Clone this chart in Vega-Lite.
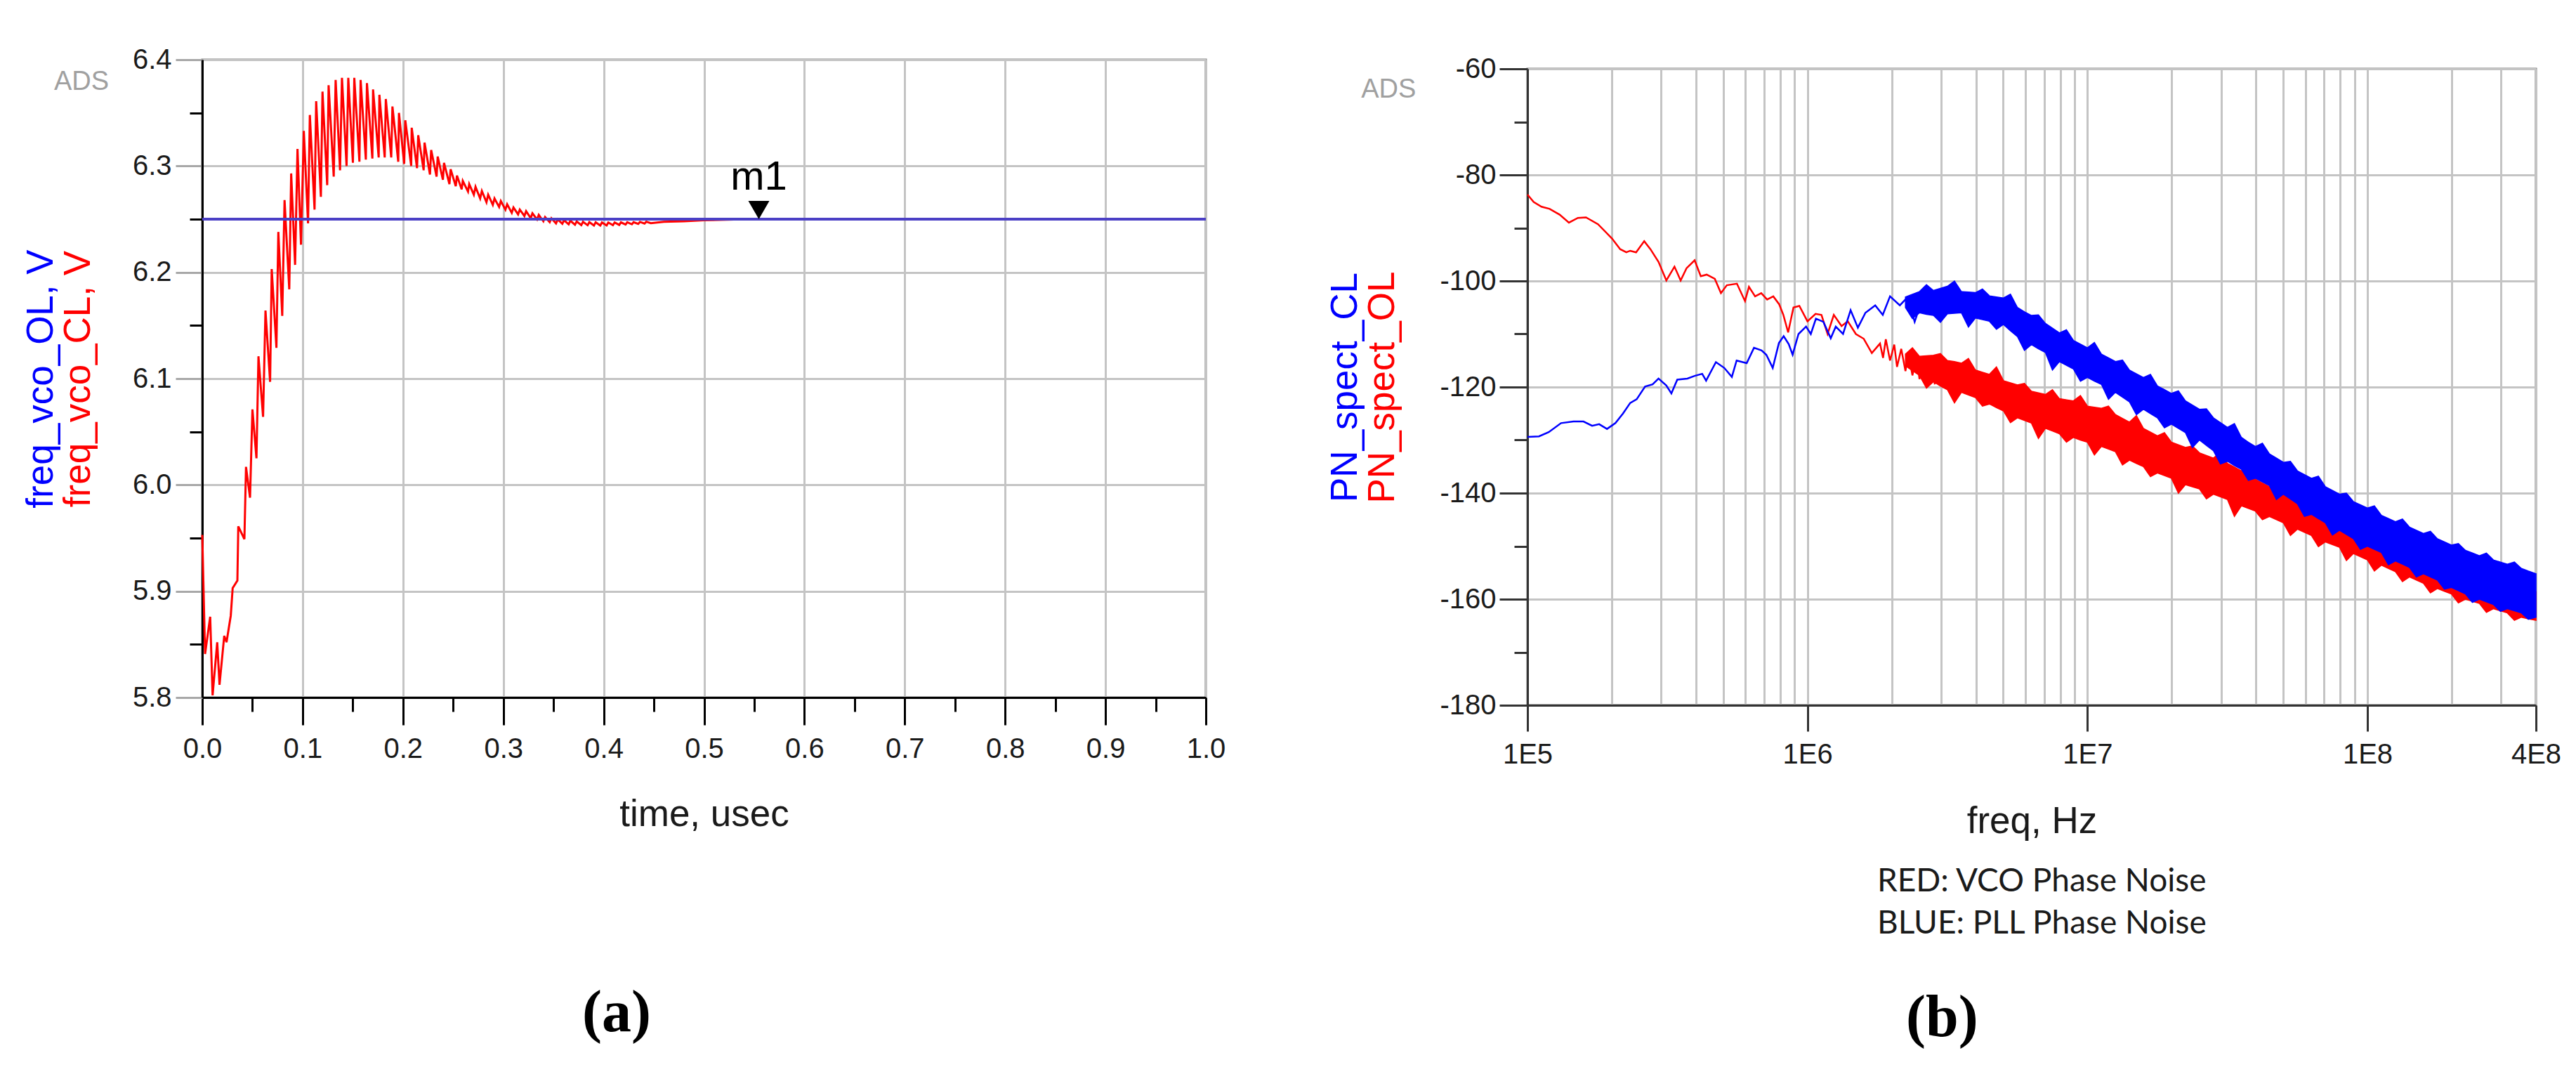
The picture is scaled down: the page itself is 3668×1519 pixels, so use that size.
{
 "$schema": "https://vega.github.io/schema/vega-lite/v6.json",
 "background": "white",
 "padding": {"left": 30, "top": 61, "right": 5, "bottom": 5},
 "spacing": 140,
 "config": {
  "view": {"stroke": "#7a7a7a", "strokeWidth": 3},
  "axis": {"labelFont": "Liberation Sans", "titleFont": "Liberation Sans", "labelFontSize": 40, "labelColor": "#1a1a1a", "titleFontSize": 53, "titleFontWeight": "normal", "gridColor": "#c4c4c4", "gridWidth": 3, "gridOpacity": 1, "tickWidth": 3, "domainWidth": 3, "domainColor": "#000000", "tickColor": "#000000", "labelFlush": false, "labelOverlap": false, "labelBound": false}
 },
 "datasets": {
  "vco": [
   {"series": "freq_vco_OL", "time": 0, "value": 6.25},
   {"series": "freq_vco_OL", "time": 1, "value": 6.25},
   {"series": "freq_vco_CL", "time": 0, "value": 5.953},
   {"series": "freq_vco_CL", "time": 0.0028, "value": 5.841},
   {"series": "freq_vco_CL", "time": 0.0079, "value": 5.876},
   {"series": "freq_vco_CL", "time": 0.0103, "value": 5.802},
   {"series": "freq_vco_CL", "time": 0.0149, "value": 5.852},
   {"series": "freq_vco_CL", "time": 0.0172, "value": 5.812},
   {"series": "freq_vco_CL", "time": 0.0219, "value": 5.858},
   {"series": "freq_vco_CL", "time": 0.0242, "value": 5.852},
   {"series": "freq_vco_CL", "time": 0.0284, "value": 5.877},
   {"series": "freq_vco_CL", "time": 0.0303, "value": 5.903},
   {"series": "freq_vco_CL", "time": 0.035, "value": 5.91},
   {"series": "freq_vco_CL", "time": 0.0359, "value": 5.961},
   {"series": "freq_vco_CL", "time": 0.042, "value": 5.949},
   {"series": "freq_vco_CL", "time": 0.0436, "value": 6.017},
   {"series": "freq_vco_CL", "time": 0.0476, "value": 5.988},
   {"series": "freq_vco_CL", "time": 0.05, "value": 6.071},
   {"series": "freq_vco_CL", "time": 0.054, "value": 6.025},
   {"series": "freq_vco_CL", "time": 0.056, "value": 6.121},
   {"series": "freq_vco_CL", "time": 0.0606, "value": 6.064},
   {"series": "freq_vco_CL", "time": 0.063, "value": 6.164},
   {"series": "freq_vco_CL", "time": 0.0676, "value": 6.097},
   {"series": "freq_vco_CL", "time": 0.0692, "value": 6.203},
   {"series": "freq_vco_CL", "time": 0.0739, "value": 6.129},
   {"series": "freq_vco_CL", "time": 0.0758, "value": 6.238},
   {"series": "freq_vco_CL", "time": 0.0797, "value": 6.159},
   {"series": "freq_vco_CL", "time": 0.082, "value": 6.268},
   {"series": "freq_vco_CL", "time": 0.0867, "value": 6.184},
   {"series": "freq_vco_CL", "time": 0.0886, "value": 6.293},
   {"series": "freq_vco_CL", "time": 0.0925, "value": 6.207},
   {"series": "freq_vco_CL", "time": 0.0949, "value": 6.316},
   {"series": "freq_vco_CL", "time": 0.0984, "value": 6.226},
   {"series": "freq_vco_CL", "time": 0.1012, "value": 6.333},
   {"series": "freq_vco_CL", "time": 0.1054, "value": 6.246},
   {"series": "freq_vco_CL", "time": 0.1072, "value": 6.348},
   {"series": "freq_vco_CL", "time": 0.1119, "value": 6.259},
   {"series": "freq_vco_CL", "time": 0.1135, "value": 6.361},
   {"series": "freq_vco_CL", "time": 0.1182, "value": 6.271},
   {"series": "freq_vco_CL", "time": 0.1198, "value": 6.37},
   {"series": "freq_vco_CL", "time": 0.1245, "value": 6.282},
   {"series": "freq_vco_CL", "time": 0.1259, "value": 6.376},
   {"series": "freq_vco_CL", "time": 0.131, "value": 6.29},
   {"series": "freq_vco_CL", "time": 0.1329, "value": 6.381},
   {"series": "freq_vco_CL", "time": 0.1373, "value": 6.296},
   {"series": "freq_vco_CL", "time": 0.1392, "value": 6.383},
   {"series": "freq_vco_CL", "time": 0.1438, "value": 6.3},
   {"series": "freq_vco_CL", "time": 0.1455, "value": 6.383},
   {"series": "freq_vco_CL", "time": 0.1501, "value": 6.303},
   {"series": "freq_vco_CL", "time": 0.1515, "value": 6.383},
   {"series": "freq_vco_CL", "time": 0.1566, "value": 6.304},
   {"series": "freq_vco_CL", "time": 0.1578, "value": 6.381},
   {"series": "freq_vco_CL", "time": 0.163, "value": 6.306},
   {"series": "freq_vco_CL", "time": 0.1641, "value": 6.378},
   {"series": "freq_vco_CL", "time": 0.1695, "value": 6.307},
   {"series": "freq_vco_CL", "time": 0.1702, "value": 6.372},
   {"series": "freq_vco_CL", "time": 0.1758, "value": 6.308},
   {"series": "freq_vco_CL", "time": 0.1765, "value": 6.367},
   {"series": "freq_vco_CL", "time": 0.1818, "value": 6.308},
   {"series": "freq_vco_CL", "time": 0.1829, "value": 6.363},
   {"series": "freq_vco_CL", "time": 0.1883, "value": 6.308},
   {"series": "freq_vco_CL", "time": 0.1895, "value": 6.356},
   {"series": "freq_vco_CL", "time": 0.1953, "value": 6.304},
   {"series": "freq_vco_CL", "time": 0.196, "value": 6.35},
   {"series": "freq_vco_CL", "time": 0.2012, "value": 6.302},
   {"series": "freq_vco_CL", "time": 0.2023, "value": 6.343},
   {"series": "freq_vco_CL", "time": 0.2082, "value": 6.3},
   {"series": "freq_vco_CL", "time": 0.2087, "value": 6.336},
   {"series": "freq_vco_CL", "time": 0.214, "value": 6.298},
   {"series": "freq_vco_CL", "time": 0.2152, "value": 6.329},
   {"series": "freq_vco_CL", "time": 0.2206, "value": 6.296},
   {"series": "freq_vco_CL", "time": 0.2215, "value": 6.322},
   {"series": "freq_vco_CL", "time": 0.2269, "value": 6.292},
   {"series": "freq_vco_CL", "time": 0.2281, "value": 6.315},
   {"series": "freq_vco_CL", "time": 0.2335, "value": 6.29},
   {"series": "freq_vco_CL", "time": 0.2346, "value": 6.309},
   {"series": "freq_vco_CL", "time": 0.2398, "value": 6.287},
   {"series": "freq_vco_CL", "time": 0.2409, "value": 6.303},
   {"series": "freq_vco_CL", "time": 0.2463, "value": 6.283},
   {"series": "freq_vco_CL", "time": 0.2475, "value": 6.297},
   {"series": "freq_vco_CL", "time": 0.2526, "value": 6.281},
   {"series": "freq_vco_CL", "time": 0.2538, "value": 6.291},
   {"series": "freq_vco_CL", "time": 0.2585, "value": 6.278},
   {"series": "freq_vco_CL", "time": 0.2596, "value": 6.286},
   {"series": "freq_vco_CL", "time": 0.2648, "value": 6.276},
   {"series": "freq_vco_CL", "time": 0.266, "value": 6.283},
   {"series": "freq_vco_CL", "time": 0.2706, "value": 6.273},
   {"series": "freq_vco_CL", "time": 0.2723, "value": 6.2805},
   {"series": "freq_vco_CL", "time": 0.2769, "value": 6.2695},
   {"series": "freq_vco_CL", "time": 0.2786, "value": 6.2765},
   {"series": "freq_vco_CL", "time": 0.2832, "value": 6.266},
   {"series": "freq_vco_CL", "time": 0.2849, "value": 6.273},
   {"series": "freq_vco_CL", "time": 0.2895, "value": 6.2635},
   {"series": "freq_vco_CL", "time": 0.2912, "value": 6.2695},
   {"series": "freq_vco_CL", "time": 0.2958, "value": 6.2615},
   {"series": "freq_vco_CL", "time": 0.2975, "value": 6.267},
   {"series": "freq_vco_CL", "time": 0.3021, "value": 6.259},
   {"series": "freq_vco_CL", "time": 0.3038, "value": 6.264},
   {"series": "freq_vco_CL", "time": 0.3084, "value": 6.256},
   {"series": "freq_vco_CL", "time": 0.3101, "value": 6.261},
   {"series": "freq_vco_CL", "time": 0.3147, "value": 6.2545},
   {"series": "freq_vco_CL", "time": 0.3164, "value": 6.259},
   {"series": "freq_vco_CL", "time": 0.321, "value": 6.253},
   {"series": "freq_vco_CL", "time": 0.3227, "value": 6.2575},
   {"series": "freq_vco_CL", "time": 0.3273, "value": 6.251},
   {"series": "freq_vco_CL", "time": 0.329, "value": 6.2555},
   {"series": "freq_vco_CL", "time": 0.3336, "value": 6.2497},
   {"series": "freq_vco_CL", "time": 0.3353, "value": 6.254},
   {"series": "freq_vco_CL", "time": 0.3399, "value": 6.248},
   {"series": "freq_vco_CL", "time": 0.3416, "value": 6.252},
   {"series": "freq_vco_CL", "time": 0.3462, "value": 6.2472},
   {"series": "freq_vco_CL", "time": 0.3479, "value": 6.2508},
   {"series": "freq_vco_CL", "time": 0.3525, "value": 6.246},
   {"series": "freq_vco_CL", "time": 0.3542, "value": 6.2498},
   {"series": "freq_vco_CL", "time": 0.3588, "value": 6.2457},
   {"series": "freq_vco_CL", "time": 0.3605, "value": 6.249},
   {"series": "freq_vco_CL", "time": 0.3651, "value": 6.2452},
   {"series": "freq_vco_CL", "time": 0.3668, "value": 6.2485},
   {"series": "freq_vco_CL", "time": 0.3714, "value": 6.2448},
   {"series": "freq_vco_CL", "time": 0.3731, "value": 6.2478},
   {"series": "freq_vco_CL", "time": 0.3777, "value": 6.2444},
   {"series": "freq_vco_CL", "time": 0.3794, "value": 6.2475},
   {"series": "freq_vco_CL", "time": 0.384, "value": 6.2443},
   {"series": "freq_vco_CL", "time": 0.3857, "value": 6.2472},
   {"series": "freq_vco_CL", "time": 0.3903, "value": 6.2441},
   {"series": "freq_vco_CL", "time": 0.392, "value": 6.247},
   {"series": "freq_vco_CL", "time": 0.3966, "value": 6.244},
   {"series": "freq_vco_CL", "time": 0.3983, "value": 6.2469},
   {"series": "freq_vco_CL", "time": 0.4029, "value": 6.2441},
   {"series": "freq_vco_CL", "time": 0.4046, "value": 6.2469},
   {"series": "freq_vco_CL", "time": 0.4092, "value": 6.2444},
   {"series": "freq_vco_CL", "time": 0.4109, "value": 6.2469},
   {"series": "freq_vco_CL", "time": 0.4155, "value": 6.2446},
   {"series": "freq_vco_CL", "time": 0.4172, "value": 6.247},
   {"series": "freq_vco_CL", "time": 0.4218, "value": 6.2449},
   {"series": "freq_vco_CL", "time": 0.4235, "value": 6.2471},
   {"series": "freq_vco_CL", "time": 0.4281, "value": 6.2452},
   {"series": "freq_vco_CL", "time": 0.4298, "value": 6.2472},
   {"series": "freq_vco_CL", "time": 0.4344, "value": 6.2456},
   {"series": "freq_vco_CL", "time": 0.4361, "value": 6.2474},
   {"series": "freq_vco_CL", "time": 0.4407, "value": 6.2459},
   {"series": "freq_vco_CL", "time": 0.4424, "value": 6.2476},
   {"series": "freq_vco_CL", "time": 0.447, "value": 6.2462},
   {"series": "freq_vco_CL", "time": 0.46, "value": 6.2475},
   {"series": "freq_vco_CL", "time": 0.48, "value": 6.248},
   {"series": "freq_vco_CL", "time": 0.5, "value": 6.249},
   {"series": "freq_vco_CL", "time": 0.53, "value": 6.2497},
   {"series": "freq_vco_CL", "time": 0.56, "value": 6.25},
   {"series": "freq_vco_CL", "time": 1, "value": 6.25}
  ],
  "marker": [{"name": "m1", "time": 0.5546, "value": 6.25}],
  "pn_line": [
   {"series": "PN_spect_OL", "freq": 100000, "pn": -83.7},
   {"series": "PN_spect_OL", "freq": 105200, "pn": -85.1},
   {"series": "PN_spect_OL", "freq": 112200, "pn": -86.0},
   {"series": "PN_spect_OL", "freq": 120000, "pn": -86.4},
   {"series": "PN_spect_OL", "freq": 130300, "pn": -87.5},
   {"series": "PN_spect_OL", "freq": 140600, "pn": -89.0},
   {"series": "PN_spect_OL", "freq": 151400, "pn": -88.1},
   {"series": "PN_spect_OL", "freq": 161800, "pn": -88.0},
   {"series": "PN_spect_OL", "freq": 178600, "pn": -89.3},
   {"series": "PN_spect_OL", "freq": 200400, "pn": -92.0},
   {"series": "PN_spect_OL", "freq": 214300, "pn": -94.0},
   {"series": "PN_spect_OL", "freq": 225400, "pn": -94.6},
   {"series": "PN_spect_OL", "freq": 232800, "pn": -94.3},
   {"series": "PN_spect_OL", "freq": 244300, "pn": -94.6},
   {"series": "PN_spect_OL", "freq": 261200, "pn": -92.5},
   {"series": "PN_spect_OL", "freq": 274800, "pn": -94.0},
   {"series": "PN_spect_OL", "freq": 293800, "pn": -96.4},
   {"series": "PN_spect_OL", "freq": 313300, "pn": -99.9},
   {"series": "PN_spect_OL", "freq": 335000, "pn": -97.3},
   {"series": "PN_spect_OL", "freq": 352400, "pn": -99.9},
   {"series": "PN_spect_OL", "freq": 369800, "pn": -97.6},
   {"series": "PN_spect_OL", "freq": 395400, "pn": -96.1},
   {"series": "PN_spect_OL", "freq": 415900, "pn": -99.1},
   {"series": "PN_spect_OL", "freq": 436500, "pn": -98.8},
   {"series": "PN_spect_OL", "freq": 466700, "pn": -99.6},
   {"series": "PN_spect_OL", "freq": 490900, "pn": -102.3},
   {"series": "PN_spect_OL", "freq": 515200, "pn": -100.8},
   {"series": "PN_spect_OL", "freq": 559800, "pn": -100.5},
   {"series": "PN_spect_OL", "freq": 598400, "pn": -103.8},
   {"series": "PN_spect_OL", "freq": 618000, "pn": -101.1},
   {"series": "PN_spect_OL", "freq": 650100, "pn": -102.9},
   {"series": "PN_spect_OL", "freq": 683900, "pn": -102.3},
   {"series": "PN_spect_OL", "freq": 717800, "pn": -103.5},
   {"series": "PN_spect_OL", "freq": 755100, "pn": -102.9},
   {"series": "PN_spect_OL", "freq": 792500, "pn": -104.4},
   {"series": "PN_spect_OL", "freq": 820400, "pn": -106.4},
   {"series": "PN_spect_OL", "freq": 853100, "pn": -109.7},
   {"series": "PN_spect_OL", "freq": 891300, "pn": -105.0},
   {"series": "PN_spect_OL", "freq": 935400, "pn": -104.7},
   {"series": "PN_spect_OL", "freq": 1000000, "pn": -107.6},
   {"series": "PN_spect_OL", "freq": 1069000, "pn": -106.2},
   {"series": "PN_spect_OL", "freq": 1122000, "pn": -106.4},
   {"series": "PN_spect_OL", "freq": 1180000, "pn": -110.0},
   {"series": "PN_spect_OL", "freq": 1242000, "pn": -106.4},
   {"series": "PN_spect_OL", "freq": 1324000, "pn": -108.5},
   {"series": "PN_spect_OL", "freq": 1393000, "pn": -107.6},
   {"series": "PN_spect_OL", "freq": 1489000, "pn": -110.0},
   {"series": "PN_spect_OL", "freq": 1589000, "pn": -110.9},
   {"series": "PN_spect_OL", "freq": 1698000, "pn": -113.6},
   {"series": "PN_spect_OL", "freq": 1816000, "pn": -111.8},
   {"series": "PN_spect_OL", "freq": 1862000, "pn": -114.5},
   {"series": "PN_spect_OL", "freq": 1905000, "pn": -111.0},
   {"series": "PN_spect_OL", "freq": 1972000, "pn": -115.0},
   {"series": "PN_spect_OL", "freq": 2042000, "pn": -112.0},
   {"series": "PN_spect_OL", "freq": 2089000, "pn": -116.2},
   {"series": "PN_spect_OL", "freq": 2163000, "pn": -112.8},
   {"series": "PN_spect_OL", "freq": 2239000, "pn": -117.0},
   {"series": "PN_spect_OL", "freq": 2291000, "pn": -113.5},
   {"series": "PN_spect_OL", "freq": 2371000, "pn": -117.8},
   {"series": "PN_spect_OL", "freq": 2455000, "pn": -114.0},
   {"series": "PN_spect_OL", "freq": 2512000, "pn": -118.5},
   {"series": "PN_spect_OL", "freq": 2600000, "pn": -114.5},
   {"series": "PN_spect_OL", "freq": 2692000, "pn": -119.0},
   {"series": "PN_spect_OL", "freq": 2754000, "pn": -115.0},
   {"series": "PN_spect_OL", "freq": 2851000, "pn": -119.5},
   {"series": "PN_spect_CL", "freq": 100000, "pn": -129.4},
   {"series": "PN_spect_CL", "freq": 109900, "pn": -129.3},
   {"series": "PN_spect_CL", "freq": 119100, "pn": -128.5},
   {"series": "PN_spect_CL", "freq": 131800, "pn": -126.8},
   {"series": "PN_spect_CL", "freq": 145900, "pn": -126.5},
   {"series": "PN_spect_CL", "freq": 158500, "pn": -126.5},
   {"series": "PN_spect_CL", "freq": 170200, "pn": -127.3},
   {"series": "PN_spect_CL", "freq": 180300, "pn": -127.0},
   {"series": "PN_spect_CL", "freq": 192300, "pn": -127.9},
   {"series": "PN_spect_CL", "freq": 206100, "pn": -126.8},
   {"series": "PN_spect_CL", "freq": 219300, "pn": -125.0},
   {"series": "PN_spect_CL", "freq": 232800, "pn": -123.0},
   {"series": "PN_spect_CL", "freq": 245500, "pn": -122.3},
   {"series": "PN_spect_CL", "freq": 263000, "pn": -119.9},
   {"series": "PN_spect_CL", "freq": 279900, "pn": -119.5},
   {"series": "PN_spect_CL", "freq": 293800, "pn": -118.4},
   {"series": "PN_spect_CL", "freq": 313300, "pn": -119.7},
   {"series": "PN_spect_CL", "freq": 326600, "pn": -121.2},
   {"series": "PN_spect_CL", "freq": 342800, "pn": -118.6},
   {"series": "PN_spect_CL", "freq": 372400, "pn": -118.4},
   {"series": "PN_spect_CL", "freq": 395400, "pn": -117.9},
   {"series": "PN_spect_CL", "freq": 420700, "pn": -117.5},
   {"series": "PN_spect_CL", "freq": 434500, "pn": -118.8},
   {"series": "PN_spect_CL", "freq": 471000, "pn": -115.3},
   {"series": "PN_spect_CL", "freq": 504700, "pn": -116.4},
   {"series": "PN_spect_CL", "freq": 537000, "pn": -118.1},
   {"series": "PN_spect_CL", "freq": 558500, "pn": -115.0},
   {"series": "PN_spect_CL", "freq": 606700, "pn": -115.5},
   {"series": "PN_spect_CL", "freq": 644200, "pn": -112.6},
   {"series": "PN_spect_CL", "freq": 685500, "pn": -113.1},
   {"series": "PN_spect_CL", "freq": 712900, "pn": -113.9},
   {"series": "PN_spect_CL", "freq": 751600, "pn": -116.4},
   {"series": "PN_spect_CL", "freq": 790700, "pn": -111.7},
   {"series": "PN_spect_CL", "freq": 822200, "pn": -110.4},
   {"series": "PN_spect_CL", "freq": 857000, "pn": -111.9},
   {"series": "PN_spect_CL", "freq": 885100, "pn": -113.9},
   {"series": "PN_spect_CL", "freq": 929000, "pn": -110.0},
   {"series": "PN_spect_CL", "freq": 988600, "pn": -108.6},
   {"series": "PN_spect_CL", "freq": 1028000, "pn": -110.0},
   {"series": "PN_spect_CL", "freq": 1072000, "pn": -107.1},
   {"series": "PN_spect_CL", "freq": 1140000, "pn": -107.7},
   {"series": "PN_spect_CL", "freq": 1211000, "pn": -110.8},
   {"series": "PN_spect_CL", "freq": 1262000, "pn": -108.6},
   {"series": "PN_spect_CL", "freq": 1340000, "pn": -110.0},
   {"series": "PN_spect_CL", "freq": 1426000, "pn": -105.5},
   {"series": "PN_spect_CL", "freq": 1514000, "pn": -108.8},
   {"series": "PN_spect_CL", "freq": 1611000, "pn": -106.0},
   {"series": "PN_spect_CL", "freq": 1746000, "pn": -104.6},
   {"series": "PN_spect_CL", "freq": 1858000, "pn": -106.4},
   {"series": "PN_spect_CL", "freq": 1972000, "pn": -102.9},
   {"series": "PN_spect_CL", "freq": 2138000, "pn": -104.6},
   {"series": "PN_spect_CL", "freq": 2275000, "pn": -103.1},
   {"series": "PN_spect_CL", "freq": 2415000, "pn": -107.7},
   {"series": "PN_spect_CL", "freq": 2624000, "pn": -102.0},
   {"series": "PN_spect_CL", "freq": 2786000, "pn": -104.2},
   {"series": "PN_spect_CL", "freq": 2965000, "pn": -102.2}
  ],
  "pn_band": [
   {"series": "PN_spect_OL", "freq": 2239000, "lo": -116.0, "hi": -113.8},
   {"series": "PN_spect_OL", "freq": 2371000, "lo": -116.9, "hi": -112.6},
   {"series": "PN_spect_OL", "freq": 2512000, "lo": -117.8, "hi": -114.2},
   {"series": "PN_spect_OL", "freq": 2661000, "lo": -120.2, "hi": -114.1},
   {"series": "PN_spect_OL", "freq": 2818000, "lo": -119.0, "hi": -114.0},
   {"series": "PN_spect_OL", "freq": 2985000, "lo": -119.8, "hi": -113.7},
   {"series": "PN_spect_OL", "freq": 3162000, "lo": -120.5, "hi": -115.0},
   {"series": "PN_spect_OL", "freq": 3350000, "lo": -123.0, "hi": -115.2},
   {"series": "PN_spect_OL", "freq": 3548000, "lo": -121.0, "hi": -115.5},
   {"series": "PN_spect_OL", "freq": 3758000, "lo": -121.5, "hi": -114.6},
   {"series": "PN_spect_OL", "freq": 3981000, "lo": -122.0, "hi": -116.8},
   {"series": "PN_spect_OL", "freq": 4217000, "lo": -123.6, "hi": -117.2},
   {"series": "PN_spect_OL", "freq": 4467000, "lo": -123.2, "hi": -117.6},
   {"series": "PN_spect_OL", "freq": 4732000, "lo": -123.9, "hi": -116.2},
   {"series": "PN_spect_OL", "freq": 5012000, "lo": -124.5, "hi": -118.8},
   {"series": "PN_spect_OL", "freq": 5309000, "lo": -126.7, "hi": -119.2},
   {"series": "PN_spect_OL", "freq": 5623000, "lo": -125.8, "hi": -119.6},
   {"series": "PN_spect_OL", "freq": 5957000, "lo": -126.3, "hi": -119.3},
   {"series": "PN_spect_OL", "freq": 6310000, "lo": -126.8, "hi": -120.8},
   {"series": "PN_spect_OL", "freq": 6683000, "lo": -129.7, "hi": -121.1},
   {"series": "PN_spect_OL", "freq": 7079000, "lo": -127.8, "hi": -121.4},
   {"series": "PN_spect_OL", "freq": 7499000, "lo": -128.3, "hi": -120.5},
   {"series": "PN_spect_OL", "freq": 7943000, "lo": -128.8, "hi": -122.2},
   {"series": "PN_spect_OL", "freq": 8414000, "lo": -130.4, "hi": -122.4},
   {"series": "PN_spect_OL", "freq": 8913000, "lo": -129.5, "hi": -122.6},
   {"series": "PN_spect_OL", "freq": 9441000, "lo": -130.0, "hi": -121.6},
   {"series": "PN_spect_OL", "freq": 10000000, "lo": -130.4, "hi": -123.6},
   {"series": "PN_spect_OL", "freq": 10590000, "lo": -132.8, "hi": -123.8},
   {"series": "PN_spect_OL", "freq": 11220000, "lo": -131.2, "hi": -124.0},
   {"series": "PN_spect_OL", "freq": 11890000, "lo": -131.7, "hi": -123.6},
   {"series": "PN_spect_OL", "freq": 12590000, "lo": -132.2, "hi": -125.2},
   {"series": "PN_spect_OL", "freq": 13340000, "lo": -134.7, "hi": -125.9},
   {"series": "PN_spect_OL", "freq": 14130000, "lo": -133.8, "hi": -126.6},
   {"series": "PN_spect_OL", "freq": 14960000, "lo": -134.4, "hi": -125.4},
   {"series": "PN_spect_OL", "freq": 15850000, "lo": -135.0, "hi": -127.8},
   {"series": "PN_spect_OL", "freq": 16790000, "lo": -136.9, "hi": -128.5},
   {"series": "PN_spect_OL", "freq": 17780000, "lo": -136.2, "hi": -129.2},
   {"series": "PN_spect_OL", "freq": 18840000, "lo": -136.7, "hi": -128.6},
   {"series": "PN_spect_OL", "freq": 19950000, "lo": -137.2, "hi": -130.4},
   {"series": "PN_spect_OL", "freq": 21130000, "lo": -140.0, "hi": -130.9},
   {"series": "PN_spect_OL", "freq": 22390000, "lo": -138.4, "hi": -131.4},
   {"series": "PN_spect_OL", "freq": 23710000, "lo": -138.8, "hi": -131.1},
   {"series": "PN_spect_OL", "freq": 25120000, "lo": -139.2, "hi": -132.4},
   {"series": "PN_spect_OL", "freq": 26610000, "lo": -141.1, "hi": -132.9},
   {"series": "PN_spect_OL", "freq": 28180000, "lo": -140.2, "hi": -133.4},
   {"series": "PN_spect_OL", "freq": 29850000, "lo": -140.7, "hi": -132.3},
   {"series": "PN_spect_OL", "freq": 31620000, "lo": -141.2, "hi": -134.4},
   {"series": "PN_spect_OL", "freq": 33500000, "lo": -144.4, "hi": -135.1},
   {"series": "PN_spect_OL", "freq": 35480000, "lo": -142.4, "hi": -135.8},
   {"series": "PN_spect_OL", "freq": 37580000, "lo": -142.9, "hi": -134.7},
   {"series": "PN_spect_OL", "freq": 39810000, "lo": -143.4, "hi": -137.4},
   {"series": "PN_spect_OL", "freq": 42170000, "lo": -145.0, "hi": -138.1},
   {"series": "PN_spect_OL", "freq": 44670000, "lo": -144.4, "hi": -138.8},
   {"series": "PN_spect_OL", "freq": 47320000, "lo": -145.0, "hi": -138.2},
   {"series": "PN_spect_OL", "freq": 50120000, "lo": -145.6, "hi": -140.0},
   {"series": "PN_spect_OL", "freq": 53090000, "lo": -148.0, "hi": -140.7},
   {"series": "PN_spect_OL", "freq": 56230000, "lo": -146.8, "hi": -141.4},
   {"series": "PN_spect_OL", "freq": 59570000, "lo": -147.4, "hi": -141.0},
   {"series": "PN_spect_OL", "freq": 63100000, "lo": -148.0, "hi": -142.6},
   {"series": "PN_spect_OL", "freq": 66830000, "lo": -150.1, "hi": -143.2},
   {"series": "PN_spect_OL", "freq": 70790000, "lo": -149.2, "hi": -143.8},
   {"series": "PN_spect_OL", "freq": 74990000, "lo": -149.7, "hi": -143.3},
   {"series": "PN_spect_OL", "freq": 79430000, "lo": -150.2, "hi": -145.0},
   {"series": "PN_spect_OL", "freq": 84140000, "lo": -152.7, "hi": -145.6},
   {"series": "PN_spect_OL", "freq": 89130000, "lo": -151.4, "hi": -146.2},
   {"series": "PN_spect_OL", "freq": 94410000, "lo": -152.0, "hi": -145.9},
   {"series": "PN_spect_OL", "freq": 100000000, "lo": -152.6, "hi": -147.4},
   {"series": "PN_spect_OL", "freq": 105900000, "lo": -154.7, "hi": -147.9},
   {"series": "PN_spect_OL", "freq": 112200000, "lo": -153.6, "hi": -148.4},
   {"series": "PN_spect_OL", "freq": 118900000, "lo": -154.2, "hi": -147.9},
   {"series": "PN_spect_OL", "freq": 125900000, "lo": -154.8, "hi": -149.4},
   {"series": "PN_spect_OL", "freq": 133400000, "lo": -156.7, "hi": -149.9},
   {"series": "PN_spect_OL", "freq": 141300000, "lo": -155.8, "hi": -150.4},
   {"series": "PN_spect_OL", "freq": 149600000, "lo": -156.4, "hi": -150.1},
   {"series": "PN_spect_OL", "freq": 158500000, "lo": -157.0, "hi": -151.4},
   {"series": "PN_spect_OL", "freq": 167900000, "lo": -158.8, "hi": -151.9},
   {"series": "PN_spect_OL", "freq": 177800000, "lo": -158.0, "hi": -152.4},
   {"series": "PN_spect_OL", "freq": 188400000, "lo": -158.5, "hi": -152.0},
   {"series": "PN_spect_OL", "freq": 199500000, "lo": -159.0, "hi": -153.4},
   {"series": "PN_spect_OL", "freq": 211300000, "lo": -160.7, "hi": -153.9},
   {"series": "PN_spect_OL", "freq": 223900000, "lo": -160.0, "hi": -154.4},
   {"series": "PN_spect_OL", "freq": 237100000, "lo": -160.4, "hi": -154.1},
   {"series": "PN_spect_OL", "freq": 251200000, "lo": -160.8, "hi": -155.2},
   {"series": "PN_spect_OL", "freq": 266100000, "lo": -162.5, "hi": -155.6},
   {"series": "PN_spect_OL", "freq": 281800000, "lo": -161.8, "hi": -156.0},
   {"series": "PN_spect_OL", "freq": 298500000, "lo": -162.2, "hi": -155.7},
   {"series": "PN_spect_OL", "freq": 316200000, "lo": -162.6, "hi": -157.0},
   {"series": "PN_spect_OL", "freq": 335000000, "lo": -164.0, "hi": -157.4},
   {"series": "PN_spect_OL", "freq": 354800000, "lo": -163.4, "hi": -157.8},
   {"series": "PN_spect_OL", "freq": 375800000, "lo": -163.7, "hi": -157.5},
   {"series": "PN_spect_OL", "freq": 400000000, "lo": -164.0, "hi": -158.6},
   {"series": "PN_spect_CL", "freq": 2239000, "lo": -105.0, "hi": -103.0},
   {"series": "PN_spect_CL", "freq": 2371000, "lo": -107.1, "hi": -102.5},
   {"series": "PN_spect_CL", "freq": 2512000, "lo": -106.0, "hi": -102.0},
   {"series": "PN_spect_CL", "freq": 2661000, "lo": -106.3, "hi": -100.7},
   {"series": "PN_spect_CL", "freq": 2818000, "lo": -106.5, "hi": -101.8},
   {"series": "PN_spect_CL", "freq": 2985000, "lo": -107.8, "hi": -101.4},
   {"series": "PN_spect_CL", "freq": 3162000, "lo": -106.2, "hi": -101.0},
   {"series": "PN_spect_CL", "freq": 3350000, "lo": -106.1, "hi": -100.0},
   {"series": "PN_spect_CL", "freq": 3548000, "lo": -106.0, "hi": -102.0},
   {"series": "PN_spect_CL", "freq": 3758000, "lo": -108.7, "hi": -102.1},
   {"series": "PN_spect_CL", "freq": 3981000, "lo": -107.0, "hi": -102.2},
   {"series": "PN_spect_CL", "freq": 4217000, "lo": -107.3, "hi": -101.5},
   {"series": "PN_spect_CL", "freq": 4467000, "lo": -107.6, "hi": -102.8},
   {"series": "PN_spect_CL", "freq": 4732000, "lo": -109.1, "hi": -103.0},
   {"series": "PN_spect_CL", "freq": 5012000, "lo": -108.2, "hi": -103.2},
   {"series": "PN_spect_CL", "freq": 5309000, "lo": -109.4, "hi": -102.5},
   {"series": "PN_spect_CL", "freq": 5623000, "lo": -110.5, "hi": -105.0},
   {"series": "PN_spect_CL", "freq": 5957000, "lo": -113.1, "hi": -105.8},
   {"series": "PN_spect_CL", "freq": 6310000, "lo": -112.0, "hi": -106.5},
   {"series": "PN_spect_CL", "freq": 6683000, "lo": -112.8, "hi": -106.4},
   {"series": "PN_spect_CL", "freq": 7079000, "lo": -113.5, "hi": -108.0},
   {"series": "PN_spect_CL", "freq": 7499000, "lo": -116.8, "hi": -108.9},
   {"series": "PN_spect_CL", "freq": 7943000, "lo": -115.2, "hi": -109.8},
   {"series": "PN_spect_CL", "freq": 8414000, "lo": -115.9, "hi": -109.2},
   {"series": "PN_spect_CL", "freq": 8913000, "lo": -116.6, "hi": -111.2},
   {"series": "PN_spect_CL", "freq": 9441000, "lo": -118.9, "hi": -111.9},
   {"series": "PN_spect_CL", "freq": 10000000, "lo": -118.2, "hi": -112.6},
   {"series": "PN_spect_CL", "freq": 10590000, "lo": -118.9, "hi": -111.6},
   {"series": "PN_spect_CL", "freq": 11220000, "lo": -119.5, "hi": -113.8},
   {"series": "PN_spect_CL", "freq": 11890000, "lo": -122.3, "hi": -114.5},
   {"series": "PN_spect_CL", "freq": 12590000, "lo": -121.0, "hi": -115.2},
   {"series": "PN_spect_CL", "freq": 13340000, "lo": -121.9, "hi": -114.9},
   {"series": "PN_spect_CL", "freq": 14130000, "lo": -122.8, "hi": -116.8},
   {"series": "PN_spect_CL", "freq": 14960000, "lo": -125.2, "hi": -117.5},
   {"series": "PN_spect_CL", "freq": 15850000, "lo": -124.2, "hi": -118.2},
   {"series": "PN_spect_CL", "freq": 16790000, "lo": -125.0, "hi": -117.6},
   {"series": "PN_spect_CL", "freq": 17780000, "lo": -125.8, "hi": -119.8},
   {"series": "PN_spect_CL", "freq": 18840000, "lo": -127.7, "hi": -120.5},
   {"series": "PN_spect_CL", "freq": 19950000, "lo": -127.0, "hi": -121.2},
   {"series": "PN_spect_CL", "freq": 21130000, "lo": -127.8, "hi": -120.7},
   {"series": "PN_spect_CL", "freq": 22390000, "lo": -128.6, "hi": -122.6},
   {"series": "PN_spect_CL", "freq": 23710000, "lo": -131.4, "hi": -123.4},
   {"series": "PN_spect_CL", "freq": 25120000, "lo": -130.0, "hi": -124.2},
   {"series": "PN_spect_CL", "freq": 26610000, "lo": -131.0, "hi": -124.1},
   {"series": "PN_spect_CL", "freq": 28180000, "lo": -132.0, "hi": -125.8},
   {"series": "PN_spect_CL", "freq": 29850000, "lo": -134.5, "hi": -126.7},
   {"series": "PN_spect_CL", "freq": 31620000, "lo": -134.0, "hi": -127.6},
   {"series": "PN_spect_CL", "freq": 33500000, "lo": -134.8, "hi": -126.9},
   {"series": "PN_spect_CL", "freq": 35480000, "lo": -135.5, "hi": -129.5},
   {"series": "PN_spect_CL", "freq": 37580000, "lo": -137.6, "hi": -130.4},
   {"series": "PN_spect_CL", "freq": 39810000, "lo": -137.2, "hi": -131.2},
   {"series": "PN_spect_CL", "freq": 42170000, "lo": -137.9, "hi": -130.6},
   {"series": "PN_spect_CL", "freq": 44670000, "lo": -138.6, "hi": -132.6},
   {"series": "PN_spect_CL", "freq": 47320000, "lo": -141.2, "hi": -133.4},
   {"series": "PN_spect_CL", "freq": 50120000, "lo": -140.2, "hi": -134.2},
   {"series": "PN_spect_CL", "freq": 53090000, "lo": -141.1, "hi": -134.0},
   {"series": "PN_spect_CL", "freq": 56230000, "lo": -142.0, "hi": -135.8},
   {"series": "PN_spect_CL", "freq": 59570000, "lo": -144.4, "hi": -136.5},
   {"series": "PN_spect_CL", "freq": 63100000, "lo": -144.0, "hi": -137.2},
   {"series": "PN_spect_CL", "freq": 66830000, "lo": -144.8, "hi": -136.8},
   {"series": "PN_spect_CL", "freq": 70790000, "lo": -145.6, "hi": -138.8},
   {"series": "PN_spect_CL", "freq": 74990000, "lo": -147.9, "hi": -139.5},
   {"series": "PN_spect_CL", "freq": 79430000, "lo": -147.0, "hi": -140.2},
   {"series": "PN_spect_CL", "freq": 84140000, "lo": -147.8, "hi": -140.0},
   {"series": "PN_spect_CL", "freq": 89130000, "lo": -148.6, "hi": -141.6},
   {"series": "PN_spect_CL", "freq": 94410000, "lo": -150.6, "hi": -142.2},
   {"series": "PN_spect_CL", "freq": 100000000, "lo": -150.0, "hi": -142.8},
   {"series": "PN_spect_CL", "freq": 105900000, "lo": -150.6, "hi": -142.4},
   {"series": "PN_spect_CL", "freq": 112200000, "lo": -151.2, "hi": -144.2},
   {"series": "PN_spect_CL", "freq": 118900000, "lo": -153.5, "hi": -144.8},
   {"series": "PN_spect_CL", "freq": 125900000, "lo": -152.8, "hi": -145.4},
   {"series": "PN_spect_CL", "freq": 133400000, "lo": -153.4, "hi": -144.9},
   {"series": "PN_spect_CL", "freq": 141300000, "lo": -154.0, "hi": -146.4},
   {"series": "PN_spect_CL", "freq": 149600000, "lo": -155.8, "hi": -147.0},
   {"series": "PN_spect_CL", "freq": 158500000, "lo": -155.2, "hi": -147.6},
   {"series": "PN_spect_CL", "freq": 167900000, "lo": -155.8, "hi": -147.2},
   {"series": "PN_spect_CL", "freq": 177800000, "lo": -156.4, "hi": -148.6},
   {"series": "PN_spect_CL", "freq": 188400000, "lo": -158.1, "hi": -149.2},
   {"series": "PN_spect_CL", "freq": 199500000, "lo": -157.8, "hi": -149.8},
   {"series": "PN_spect_CL", "freq": 211300000, "lo": -158.4, "hi": -149.5},
   {"series": "PN_spect_CL", "freq": 223900000, "lo": -159.0, "hi": -150.8},
   {"series": "PN_spect_CL", "freq": 237100000, "lo": -160.6, "hi": -151.3},
   {"series": "PN_spect_CL", "freq": 251200000, "lo": -160.0, "hi": -151.8},
   {"series": "PN_spect_CL", "freq": 266100000, "lo": -160.5, "hi": -151.3},
   {"series": "PN_spect_CL", "freq": 281800000, "lo": -161.0, "hi": -152.6},
   {"series": "PN_spect_CL", "freq": 298500000, "lo": -162.3, "hi": -153.0},
   {"series": "PN_spect_CL", "freq": 316200000, "lo": -161.8, "hi": -153.4},
   {"series": "PN_spect_CL", "freq": 335000000, "lo": -162.2, "hi": -153.0},
   {"series": "PN_spect_CL", "freq": 354800000, "lo": -162.6, "hi": -154.2},
   {"series": "PN_spect_CL", "freq": 375800000, "lo": -163.8, "hi": -154.7},
   {"series": "PN_spect_CL", "freq": 400000000, "lo": -163.4, "hi": -155.2}
  ]
 },
 "hconcat": [
  {
   "spacing": 0,
   "vconcat": [
    {"width": 1, "height": 2, "data": {"values": []}, "mark": {"type": "point", "opacity": 0}, "view": {"stroke": null, "fill": "#ffffff"}},
    {
     "width": 1429,
     "height": 908,
     "title": {"text": "(a)", "orient": "bottom", "anchor": "start", "frame": "group", "dx": 541, "offset": 216, "font": "Liberation Serif", "fontSize": 84, "fontWeight": "bold", "color": "#000000"},
     "resolve": {"axis": {"x": "independent", "y": "independent"}},
     "layer": [
      {
       "data": {"name": "vco"},
       "transform": [{"filter": {"field": "series", "equal": "freq_vco_CL"}}],
       "mark": {"type": "line", "color": "#ff0000", "strokeWidth": 3},
       "encoding": {
        "x": {"field": "time", "type": "quantitative", "scale": {"domain": [0, 1], "nice": false, "zero": false},
              "axis": {"orient": "bottom", "values": [0, 0.1, 0.2, 0.3, 0.4, 0.5, 0.6, 0.7, 0.8, 0.9, 1], "format": ".1f", "labelPadding": 14, "tickSize": 39, "grid": true, "title": "time, usec", "titleX": 714.5, "titleY": 182, "titleAlign": "center", "titleBaseline": "alphabetic", "titleAngle": 0, "titleColor": "#1a1a1a"}},
        "y": {"field": "value", "type": "quantitative", "scale": {"domain": [5.8, 6.4], "nice": false, "zero": false},
              "axis": {"orient": "left", "values": [5.8, 5.9, 6, 6.1, 6.2, 6.3, 6.4], "format": ".1f", "labelPadding": 6, "tickSize": 38, "tickColor": "#a8a8a8", "grid": true, "title": "freq_vco_OL, V", "titleColor": "#0000ff", "titleX": -230, "titleY": 454, "titleAngle": 270, "titleAlign": "center", "titleBaseline": "middle"}}
       }
      },
      {
       "data": {"name": "vco"},
       "transform": [{"filter": {"field": "series", "equal": "freq_vco_OL"}}],
       "mark": {"type": "line", "color": "#4b3fc5", "strokeWidth": 4},
       "encoding": {
        "x": {"field": "time", "type": "quantitative", "scale": {"domain": [0, 1], "nice": false, "zero": false},
              "axis": {"orient": "bottom", "values": [0.05, 0.15, 0.25, 0.35, 0.45, 0.55, 0.65, 0.75, 0.85, 0.95], "labels": false, "domain": false, "grid": false, "tickSize": 20, "title": null}},
        "y": {"field": "value", "type": "quantitative", "scale": {"domain": [5.8, 6.4], "nice": false, "zero": false},
              "axis": {"orient": "left", "values": [5.85, 5.95, 6.05, 6.15, 6.25, 6.35], "labels": false, "domain": false, "grid": false, "tickSize": 18, "title": "freq_vco_CL, V", "titleColor": "#ff0000", "titleX": -177, "titleY": 454, "titleAngle": 270, "titleAlign": "center", "titleBaseline": "middle"}}
       }
      },
      {
       "data": {"name": "marker"},
       "mark": {"type": "point", "shape": "triangle-down", "size": 900, "filled": true, "color": "#000000", "opacity": 1, "yOffset": -13},
       "encoding": {
        "x": {"field": "time", "type": "quantitative", "scale": {"domain": [0, 1], "nice": false, "zero": false}, "axis": null},
        "y": {"field": "value", "type": "quantitative", "scale": {"domain": [5.8, 6.4], "nice": false, "zero": false}, "axis": null}
       }
      },
      {
       "data": {"name": "marker"},
       "mark": {"type": "text", "font": "Liberation Sans", "fontSize": 58, "color": "#000000", "align": "center", "baseline": "alphabetic", "yOffset": -42},
       "encoding": {
        "x": {"field": "time", "type": "quantitative", "scale": {"domain": [0, 1], "nice": false, "zero": false}, "axis": null},
        "y": {"field": "value", "type": "quantitative", "scale": {"domain": [5.8, 6.4], "nice": false, "zero": false}, "axis": null},
        "text": {"field": "name"}
       }
      },
      {
       "data": {"values": [{"label": "ADS"}]},
       "mark": {"type": "text", "font": "Liberation Sans", "fontSize": 38, "color": "#a0a0a0", "align": "center", "baseline": "middle"},
       "encoding": {
        "x": {"datum": -0.1204, "type": "quantitative", "scale": {"domain": [0, 1], "nice": false, "zero": false}, "axis": null},
        "y": {"datum": 6.379, "type": "quantitative", "scale": {"domain": [5.8, 6.4], "nice": false, "zero": false}, "axis": null},
        "text": {"field": "label"}
       }
      }
     ]
    }
   ]
  },
  {
   "spacing": 0,
   "vconcat": [
    {"width": 1, "height": 15, "data": {"values": []}, "mark": {"type": "point", "opacity": 0}, "view": {"stroke": null, "fill": "#ffffff"}},
    {
     "width": 1436,
     "height": 906,
     "title": {"text": "(b)", "orient": "bottom", "anchor": "start", "frame": "group", "dx": 539, "offset": 71, "font": "Liberation Serif", "fontSize": 84, "fontWeight": "bold", "color": "#000000"},
     "resolve": {"axis": {"x": "independent", "y": "independent"}},
     "layer": [
      {
       "data": {"name": "pn_line"},
       "transform": [{"filter": {"field": "series", "equal": "PN_spect_OL"}}],
       "mark": {"type": "line", "color": "#ff0000", "strokeWidth": 2.5},
       "encoding": {
        "x": {"field": "freq", "type": "quantitative", "scale": {"type": "log", "domain": [100000, 400000000], "nice": false},
              "axis": {"orient": "bottom", "values": [100000, 1000000, 10000000, 100000000, 400000000], "labelExpr": "datum.value > 200000000 ? '4E8' : '1E' + format(log(datum.value) / LN10, '.0f')", "labelPadding": 13, "tickSize": 37, "tickColor": "#333333", "domainColor": "#333333", "grid": true, "title": "freq, Hz", "titleX": 718, "titleY": 181, "titleAlign": "center", "titleBaseline": "alphabetic", "titleAngle": 0, "titleColor": "#1a1a1a"}},
        "y": {"field": "pn", "type": "quantitative", "scale": {"domain": [-180, -60], "nice": false, "zero": false},
              "axis": {"orient": "left", "values": [-180, -160, -140, -120, -100, -80, -60], "labelExpr": "'' + datum.value", "labelPadding": 5, "tickSize": 40, "tickColor": "#333333", "domainColor": "#333333", "grid": true, "title": "PN_spect_CL", "titleColor": "#0000ff", "titleX": -260, "titleY": 453, "titleAngle": 270, "titleAlign": "center", "titleBaseline": "middle"}}
       }
      },
      {
       "data": {"name": "pn_band"},
       "transform": [{"filter": {"field": "series", "equal": "PN_spect_OL"}}],
       "mark": {"type": "area", "color": "#ff0000", "opacity": 1, "stroke": "#ff0000", "strokeWidth": 1.5},
       "encoding": {
        "x": {"field": "freq", "type": "quantitative", "scale": {"type": "log", "domain": [100000, 400000000], "nice": false},
              "axis": {"orient": "bottom", "values": [200000, 300000, 400000, 500000, 600000, 700000, 800000, 900000, 2000000, 3000000, 4000000, 5000000, 6000000, 7000000, 8000000, 9000000, 20000000, 30000000, 40000000, 50000000, 60000000, 70000000, 80000000, 90000000, 200000000, 300000000], "labels": false, "domain": false, "grid": true, "ticks": false, "title": null}},
        "y": {"field": "lo", "type": "quantitative", "scale": {"domain": [-180, -60], "nice": false, "zero": false},
              "axis": {"orient": "left", "values": [-170, -150, -130, -110, -90, -70], "labels": false, "domain": false, "grid": false, "tickSize": 19, "tickColor": "#333333", "title": "PN_spect_OL", "titleColor": "#ff0000", "titleX": -207, "titleY": 453, "titleAngle": 270, "titleAlign": "center", "titleBaseline": "middle"}},
        "y2": {"field": "hi"}
       }
      },
      {
       "data": {"name": "pn_line"},
       "transform": [{"filter": {"field": "series", "equal": "PN_spect_CL"}}],
       "mark": {"type": "line", "color": "#0000ff", "strokeWidth": 2.5},
       "encoding": {
        "x": {"field": "freq", "type": "quantitative", "scale": {"type": "log", "domain": [100000, 400000000], "nice": false}, "axis": null},
        "y": {"field": "pn", "type": "quantitative", "scale": {"domain": [-180, -60], "nice": false, "zero": false}, "axis": null}
       }
      },
      {
       "data": {"name": "pn_band"},
       "transform": [{"filter": {"field": "series", "equal": "PN_spect_CL"}}],
       "mark": {"type": "area", "color": "#0000ff", "opacity": 1, "stroke": "#0000ff", "strokeWidth": 1.5},
       "encoding": {
        "x": {"field": "freq", "type": "quantitative", "scale": {"type": "log", "domain": [100000, 400000000], "nice": false}, "axis": null},
        "y": {"field": "lo", "type": "quantitative", "scale": {"domain": [-180, -60], "nice": false, "zero": false}, "axis": null},
        "y2": {"field": "hi"}
       }
      },
      {
       "data": {"values": [{"label": "ADS"}]},
       "mark": {"type": "text", "font": "Liberation Sans", "fontSize": 38, "color": "#a0a0a0", "align": "center", "baseline": "middle"},
       "encoding": {
        "x": {"datum": 31920, "type": "quantitative", "scale": {"type": "log", "domain": [100000, 400000000], "nice": false}, "axis": null},
        "y": {"datum": -63.97, "type": "quantitative", "scale": {"domain": [-180, -60], "nice": false, "zero": false}, "axis": null},
        "text": {"field": "label"}
       }
      },
      {
       "data": {"values": [{"note": "RED: VCO Phase Noise\nBLUE: PLL Phase Noise"}]},
       "mark": {"type": "text", "font": "Lato", "fontSize": 46, "color": "#1a1a1a", "align": "left", "baseline": "alphabetic", "lineBreak": "\n", "lineHeight": 60},
       "encoding": {
        "x": {"datum": 1774000, "type": "quantitative", "scale": {"type": "log", "domain": [100000, 400000000], "nice": false}, "axis": null},
        "y": {"datum": -215.1, "type": "quantitative", "scale": {"domain": [-180, -60], "nice": false, "zero": false}, "axis": null},
        "text": {"field": "note"}
       }
      }
     ]
    }
   ]
  }
 ]
}
